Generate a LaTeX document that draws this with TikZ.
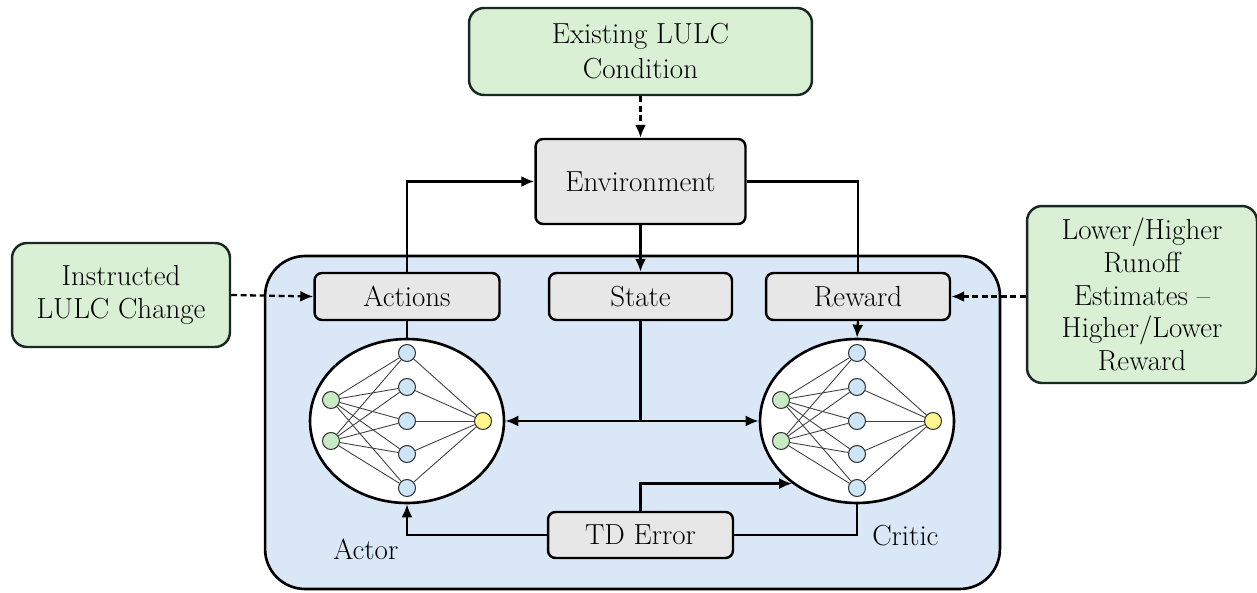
\documentclass[tikz,border=0pt]{standalone}
\usetikzlibrary{arrows.meta,shapes.geometric,calc}
\definecolor{gfill}{RGB}{217,240,212}
\definecolor{grayfill}{RGB}{231,231,231}
\definecolor{bluefill}{RGB}{218,231,246}
\definecolor{hidfill}{RGB}{204,229,247}
\definecolor{infill}{RGB}{200,234,196}
\definecolor{outfill}{RGB}{255,247,140}
\definecolor{edgedark}{RGB}{25,40,35}
\tikzset{
  txt/.style={font=\fontsize{16.5}{19}\selectfont, align=center, inner sep=0pt},
  greenbox/.style={txt, draw=edgedark, fill=gfill, line width=1.4pt, rounded corners=0.3cm},
  graybox/.style={txt, draw=black, fill=grayfill, line width=1.4pt, rounded corners=0.15cm},
  conn/.style={line width=1.3pt},
  arr/.style={conn, -{Latex[length=2.6mm,width=2.2mm]}},
  dasharr/.style={line width=1.3pt, dash pattern=on 0.12cm off 0.07cm, -{Latex[length=2.6mm,width=2.2mm]}},
  netell/.style={ellipse, draw=black, fill=white, line width=1.5pt, minimum width=3.88cm, minimum height=3.28cm, inner sep=0pt},
  neuron/.style={circle, draw=black!80, line width=0.6pt, minimum size=0.34cm, inner sep=0pt},
  nnedge/.style={draw=black!75, line width=0.5pt}
}
\begin{document}
\begin{tikzpicture}[x=0.02cm,y=-0.02cm]
\useasboundingbox (0,0) rectangle (1257,592);
% main blue container
\node[draw=black, fill=bluefill, line width=1.5pt, rounded corners=0.8cm, minimum width=14.7cm, minimum height=6.66cm, inner sep=0pt] (main) at (632.5,422.5) {};

% boxes
\node[greenbox, minimum width=6.86cm, minimum height=1.74cm, font=\fontsize{16.5}{20}\selectfont] (exist) at (640.5,51.5) {Existing LULC\\Condition};
\node[graybox, minimum width=4.2cm, minimum height=1.7cm] (env) at (640.5,181.5) {Environment};
\node[graybox, minimum width=3.7cm, minimum height=0.94cm] (actions) at (407,296.5) {Actions};
\node[graybox, minimum width=3.66cm, minimum height=0.94cm] (state) at (640.5,296.5) {State};
\node[graybox, minimum width=3.68cm, minimum height=0.94cm] (reward) at (858,296.5) {Reward};
\node[greenbox, minimum width=4.36cm, minimum height=2.08cm] (instr) at (121,295) {Instructed\\LULC Change};
\node[greenbox, minimum width=4.6cm, minimum height=3.54cm, font=\fontsize{16.5}{18.7}\selectfont] (lower) at (1142,294.5) {Lower/Higher\\Runoff\\Estimates --\\Higher/Lower\\Reward};
\node[graybox, minimum width=3.7cm, minimum height=0.92cm] (td) at (640.5,535) {TD Error};

% ellipses
\node[netell] (actor) at (407,421) {};
\node[netell] (critic) at (857,421) {};
\node[txt, anchor=west] (actorlbl) at (333,549) {Actor};
\node[txt, anchor=west] (criticlbl) at (872,536) {Critic};

% neural nets
\foreach \n/\cx in {a/407, c/857} {
  \node[neuron, fill=infill] (\n i1) at (\cx-76,400) {};
  \node[neuron, fill=infill] (\n i2) at (\cx-76,441) {};
  \foreach \k/\yy in {1/353,2/387,3/421,4/454,5/488} {
    \node[neuron, fill=hidfill] (\n h\k) at (\cx,\yy) {};
  }
  \node[neuron, fill=outfill] (\n o) at (\cx+76,421) {};
  \foreach \i in {1,2} { \foreach \k in {1,...,5} { \draw[nnedge] (\n i\i) -- (\n h\k); } }
  \foreach \k in {1,...,5} { \draw[nnedge] (\n h\k) -- (\n o); }
}

% connectors
\draw[dasharr] (exist.south) -- (env.north);
\draw[dasharr] (instr.east) -- (actions.west);
\draw[dasharr] (lower.west |- reward.east) -- (reward.east);
\draw[arr] (actions.north) |- (env.west);
\draw[conn] (env.east) -| (reward.north);
\draw[arr] (env.south) -- (state.north);
\draw[conn] (actions.south) -- (actor.north);
\draw[arr] (reward.south) -- (critic.north);
\coordinate (junc) at (state.south |- actor.center);
\draw[conn] (state.south) -- (junc);
\draw[arr] (junc) -- (actor.east);
\draw[arr] (junc) -- (critic.west);
\draw[arr] (td.north) |- (critic.224);
\draw[arr] (td.west) -| (actor.south);
\draw[conn] (critic.south) |- (td.east);
\end{tikzpicture}
\end{document}
